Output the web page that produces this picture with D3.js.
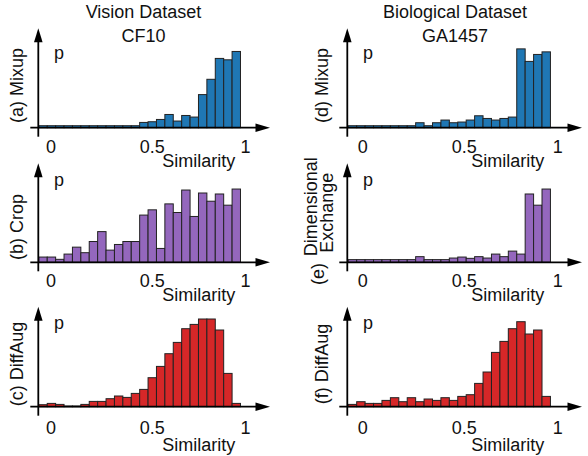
<!DOCTYPE html>
<html>
<head>
<meta charset="utf-8">
<script src="https://cdn.jsdelivr.net/npm/d3@7"></script>
<style>
  body { margin: 0; background: #fff; }
  text { font-family: "Liberation Sans", Arial, Helvetica, sans-serif; fill: #111; }
</style>
</head>
<body>
<div id="chart"></div>
<script>
// histogram heights (p, % of axis height), 24 bins per panel
var mixupVision   = [2,2,2,2,2,2,2,2,2,2,2,2,5.3,6,8.3,13.3,6.7,12.3,10.7,33.3,48.7,69.7,68.3,76.7];
var cropVision    = [5.3,5.3,3,8.3,15.3,9.7,21,31,12.3,18,21,21,47.7,53,14,59,50.3,73,46.3,70,61.7,69,57.7,74];
var diffAugVision = [2,3.3,2.3,0.7,0.7,2.3,5.3,5.3,8,10.7,9.3,13.3,17.3,29,40.3,53,64.3,78,82.3,87.7,87.7,76.7,33.3,3.3];
var mixupBio      = [2,2,2,2,2,2,2,2,5,2,5,7.7,5,5.7,7.7,12,9.3,7.7,9.3,10.7,79.3,66.7,73.7,76.3];
var dimExBio      = [2.7,2.7,2.7,2.7,2.7,2.7,2.7,2.7,5.7,2.7,2.7,2.7,4.3,5.3,4,5.7,4.3,8.3,5.7,11.3,8.3,69,57.7,74];
var diffAugBio    = [2.3,5,3.3,3.3,6.3,9,5,9,5,7.7,6.3,9,6.3,10.3,12,23.3,34.7,54.3,65.3,78,85,72.7,76.7,10.3];

var binWidth = 0.0432;
var binStartVision = -0.06;
var binStartBio = -0.072;
var xTicks = [0, 0.5, 1];
var yMax = 100;

var colTitles = [["Vision Dataset", "CF10"], ["Biological Dataset", "GA1457"]];
var rowNames = [["(a) Mixup", "(b) Crop", "(c) DiffAug"], ["(d) Mixup", null, "(f) DiffAug"]];
var colors = ["#1f77b4", "#9467bd", "#d62728"];

var width = 588, height = 456;

// layout
var cols = [
  {axisX: 38.3, zero: 50.5, one: 245, axisEnd: 270, titleX: 143.5, labelX: 22.7, binStart: binStartVision,
   data: [mixupVision, cropVision, diffAugVision]},
  {axisX: 347.3, zero: 362.3, one: 557.3, axisEnd: 582, titleX: 455, labelX: 328.3, binStart: binStartBio,
   data: [mixupBio, dimExBio, diffAugBio]}
];
var rows = [
  {base: 127.7, top: 28.3, pBase: 59.3, tickPad: 12.5, simBase: 166.5, labelY: 85.5},
  {base: 262.3, top: 163.3, pBase: 186, tickPad: 12.2, simBase: 301, labelY: 227},
  {base: 406.7, top: 306.7, pBase: 329.3, tickPad: 14.5, simBase: 451, labelY: 364}
];

var svg = d3.select("#chart")
    .append("svg")
    .attr("width", width)
    .attr("height", height);

// column titles
cols.forEach(function(c, ci) {
  svg.append("text").attr("x", c.titleX).attr("y", 18.3)
    .attr("text-anchor", "middle").style("font-size", "18px").text(colTitles[ci][0]);
  svg.append("text").attr("x", c.titleX).attr("y", 42.3)
    .attr("text-anchor", "middle").style("font-size", "18px").text(colTitles[ci][1]);
});

cols.forEach(function(c, ci) {
  var x = d3.scaleLinear().domain([0, 1]).range([c.zero, c.one]);

  rows.forEach(function(r, ri) {
    var y = d3.scaleLinear().domain([0, yMax]).range([r.base, r.top]);
    var vals = c.data[ri];
    var g = svg.append("g");

    // bars
    g.selectAll("rect")
      .data(vals)
      .enter().append("rect")
      .attr("x", function(d, i) { return x(c.binStart + i * binWidth); })
      .attr("width", x(binWidth) - x(0))
      .attr("y", function(d) { return y(d); })
      .attr("height", function(d) { return y(0) - y(d); })
      .attr("fill", colors[ri])
      .attr("stroke", "#222")
      .attr("stroke-width", 1);

    // axes with arrows
    g.append("line")
      .attr("x1", c.axisX).attr("x2", c.axisX)
      .attr("y1", r.base + 9).attr("y2", r.top + 12)
      .attr("stroke", "#000").attr("stroke-width", 1.8);
    g.append("path")
      .attr("d", "M" + c.axisX + "," + r.top + "L" + (c.axisX - 4.3) + "," + (r.top + 14) +
                 "L" + (c.axisX + 4.3) + "," + (r.top + 14) + "Z")
      .attr("fill", "#000");
    g.append("line")
      .attr("x1", c.axisX - 8).attr("x2", c.axisEnd - 12)
      .attr("y1", r.base).attr("y2", r.base)
      .attr("stroke", "#000").attr("stroke-width", 1.8);
    g.append("path")
      .attr("d", "M" + c.axisEnd + "," + r.base + "L" + (c.axisEnd - 14.5) + "," + (r.base - 4.2) +
                 "L" + (c.axisEnd - 14.5) + "," + (r.base + 4.2) + "Z")
      .attr("fill", "#000");

    // tick labels
    var ax = g.append("g")
      .attr("transform", "translate(0," + r.base + ")")
      .call(d3.axisBottom(x).tickValues(xTicks).tickSize(0).tickPadding(r.tickPad)
        .tickFormat(function(d) { return d3.format("")(d); }));
    ax.select(".domain").remove();
    ax.selectAll("text")
      .style("font-size", "18px")
      .style("font-family", "Liberation Sans, Arial, sans-serif")
      .attr("fill", "#111")
      .attr("dx", function(d) { return d === 0.5 ? 4 : 0; });

    g.append("text")
      .attr("x", c.axisX + 160.5).attr("y", r.simBase)
      .attr("text-anchor", "middle").style("font-size", "18px")
      .text("Similarity");

    g.append("text")
      .attr("x", c.axisX + 15.7).attr("y", r.pBase)
      .style("font-size", "18px")
      .text("p");

    var name = rowNames[ci][ri];
    if (name) {
      g.append("text")
        .attr("transform", "translate(" + c.labelX + "," + r.labelY + ") rotate(-90)")
        .attr("text-anchor", "middle").style("font-size", "18px")
        .text(name);
    }
  });
});

// (e) label is split over lines
function vlabel(txt, bx, cy) {
  svg.append("text")
    .attr("transform", "translate(" + bx + "," + cy + ") rotate(-90)")
    .attr("text-anchor", "middle").style("font-size", "18px")
    .text(txt);
}
vlabel("(e)", 323.5, 274);
vlabel("Dimensional", 317, 206.7);
vlabel("Exchange", 333, 212.8);
</script>
</body>
</html>
